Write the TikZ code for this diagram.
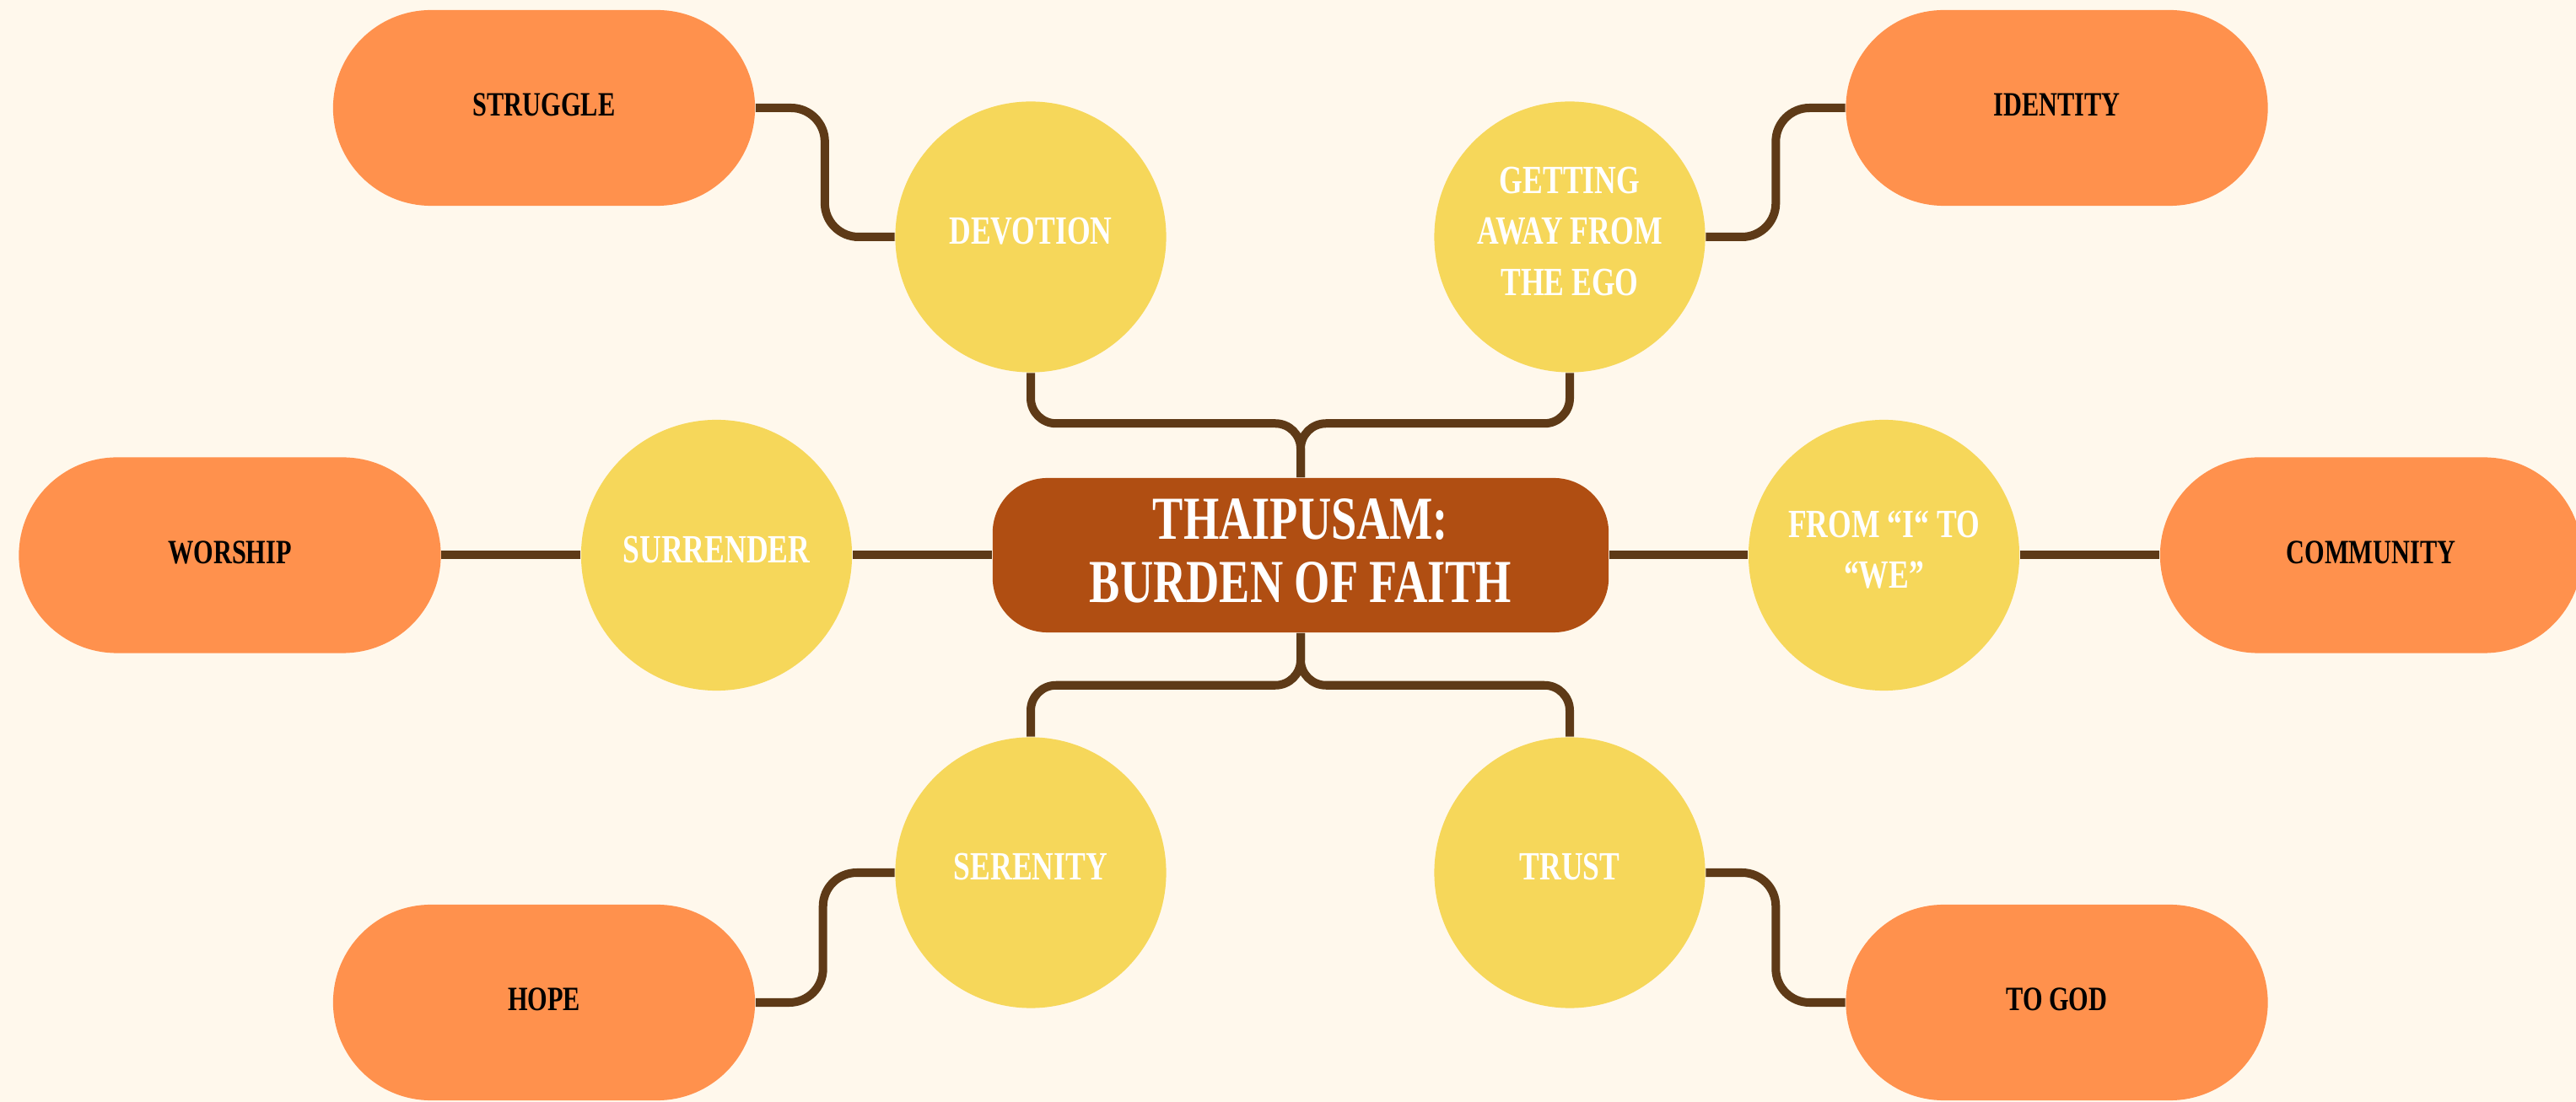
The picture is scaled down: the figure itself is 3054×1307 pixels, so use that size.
\documentclass[tikz,border=0pt]{standalone}
\usepackage{fontspec}
\setmainfont{Liberation Serif}[FakeStretch=0.75,UprightFont=* Bold]
\definecolor{bgc}{HTML}{FFF8EC}
\definecolor{yel}{HTML}{F6D75A}
\definecolor{org}{HTML}{FF914D}
\definecolor{rust}{HTML}{B04E12}
\definecolor{brn}{HTML}{5E3A17}
\newcommand\mmHub{\fontsize{20.6pt}{21.1pt}\selectfont}
\newcommand\mmCirc{\fontsize{13.5pt}{17.2pt}\selectfont}
\newcommand\mmPill{\fontsize{11.5pt}{14pt}\selectfont}
\newcommand\mmDn[1]{\rule[-#1]{0pt}{#1}}
\begin{document}
\begin{tikzpicture}[x=0.01cm,y=-0.01cm,
  conn/.style={draw=brn,line width=0.1cm},
  circ/.style={circle,fill=yel,minimum size=3.21cm,inner sep=0pt,text=white,align=center,font=\mmCirc},
  pill/.style={rectangle,fill=org,minimum width=5cm,minimum height=2.32cm,rounded corners=1.16cm,inner sep=0pt,text=black,font=\mmPill},
  hub/.style={rectangle,fill=rust,minimum width=7.3cm,minimum height=1.83cm,rounded corners=0.65cm,inner sep=0pt,text=white,align=center,font=\mmHub}]
\fill[bgc] (0,0) rectangle (3054,1307);
\useasboundingbox (0,0) rectangle (3054,1307);

\node[hub] (hub) at (1542,658.5) {THAIPUSAM:\\BURDEN OF FAITH\mmDn{3.1pt}};

\node[circ] (dev) at (1222,281) {DEVOTION\mmDn{4pt}};
\node[circ] (ego) at (1861,281) {GETTING\\AWAY FROM\\THE EGO\mmDn{4pt}};
\node[circ] (sur) at (849.5,658.5) {SURRENDER\mmDn{4pt}};
\node[circ] (frm) at (2233.5,658.5) {FROM “I“ TO\\“WE”\mmDn{4pt}};
\node[circ] (ser) at (1222,1035) {SERENITY\mmDn{4pt}};
\node[circ] (tru) at (1861,1035) {TRUST\mmDn{4pt}};

\node[pill] (str) at (645,128) {STRUGGLE\mmDn{2pt}};
\node[pill] (idn) at (2438.5,128) {IDENTITY\mmDn{2pt}};
\node[pill] (wor) at (272.5,658.5) {WORSHIP\mmDn{2pt}};
\node[pill] (com) at (2811,658.5) {COMMUNITY\mmDn{2pt}};
\node[pill] (hop) at (645,1189) {HOPE\mmDn{2pt}};
\node[pill] (god) at (2438.5,1189) {TO GOD\mmDn{2pt}};

\draw[conn,rounded corners=0.4cm] (str.east) -- ++(82,0) |- (dev.west);
\draw[conn,rounded corners=0.4cm] (ego.east) -- ++(83,0) |- (idn.west);
\draw[conn,rounded corners=0.4cm] (ser.west) -- ++(-85,0) |- (hop.east);
\draw[conn,rounded corners=0.4cm] (tru.east) -- ++(83,0) |- (god.west);
\draw[conn] (wor.east) -- (sur.west);
\draw[conn] (sur.east) -- (hub.west);
\draw[conn] (hub.east) -- (frm.west);
\draw[conn] (frm.east) -- (com.west);
\draw[conn,rounded corners=0.3cm] (hub.north) -- ++(0,-64) -| (dev.south);
\draw[conn,rounded corners=0.3cm] (hub.north) -- ++(0,-64) -| (ego.south);
\draw[conn,rounded corners=0.3cm] (hub.south) -- ++(0,62) -| (ser.north);
\draw[conn,rounded corners=0.3cm] (hub.south) -- ++(0,62) -| (tru.north);
\end{tikzpicture}
\end{document}
